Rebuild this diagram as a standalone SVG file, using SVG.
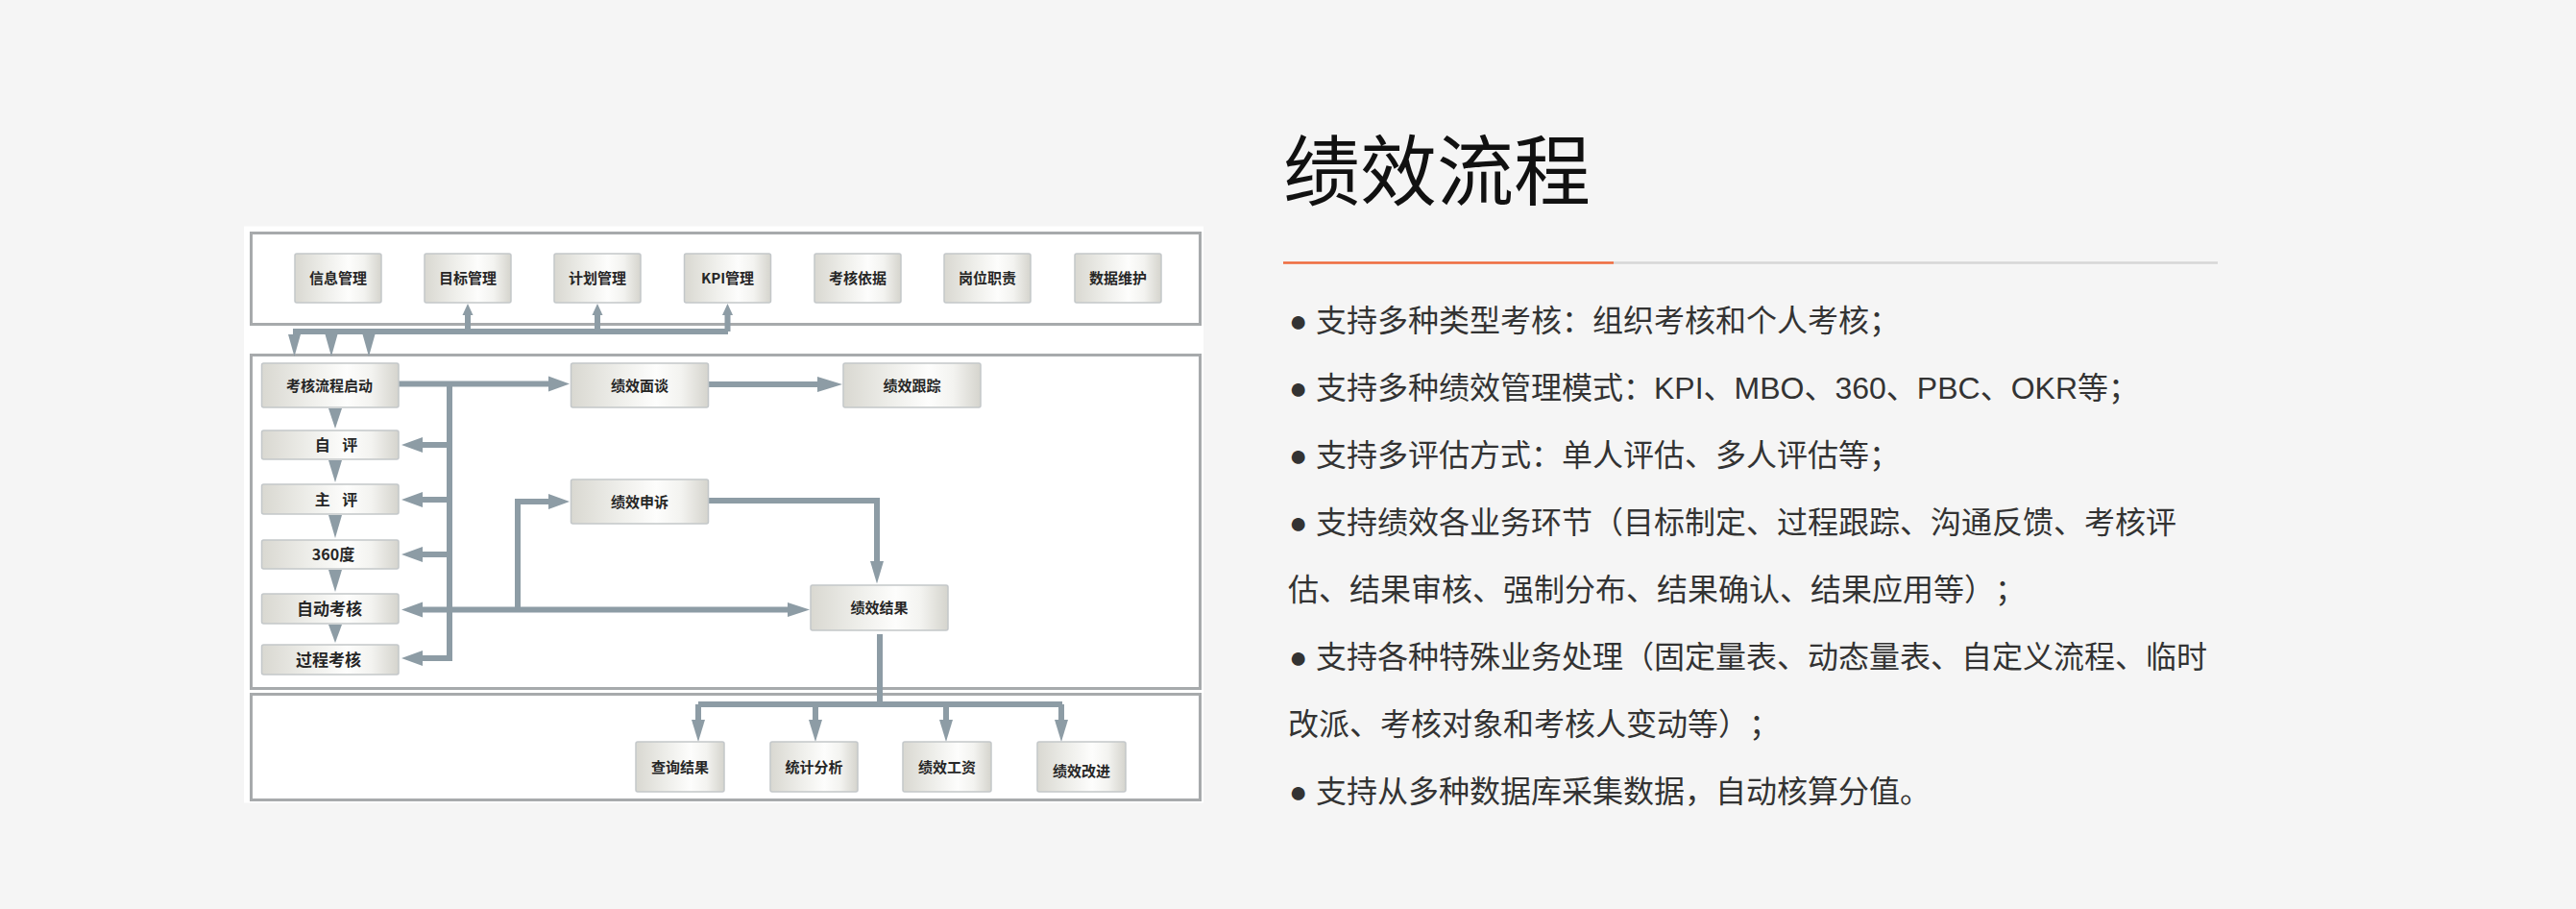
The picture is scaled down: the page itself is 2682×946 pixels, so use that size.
<svg xmlns="http://www.w3.org/2000/svg" width="2682" height="946" viewBox="0 0 2682 946">
<defs>
<linearGradient id="ng" x1="0" y1="0" x2="1" y2="0">
<stop offset="0" stop-color="#d9d8d1"/>
<stop offset="0.35" stop-color="#eeeeea"/>
<stop offset="0.62" stop-color="#fdfdfc"/>
<stop offset="0.8" stop-color="#f3f3f0"/>
<stop offset="1" stop-color="#d5d4cd"/>
</linearGradient>
<style>
.box{fill:none;stroke:#a7aaac;stroke-width:3}
.nd rect{fill:url(#ng);stroke:#c3c7c9;stroke-width:1.5}
.nd text{font-family:"Noto Sans CJK SC","Noto Sans",sans-serif;font-weight:700;font-size:15px;fill:#262626;text-anchor:middle}
.ln{fill:none;stroke:#8d9ca5;stroke-width:6;stroke-linejoin:miter}
.ah{fill:#8d9ca5}
.ttl{font-family:"Noto Sans CJK SC","Noto Sans",sans-serif;font-size:80px;fill:#111111}
.bl{font-family:"Liberation Sans","Noto Sans CJK SC",sans-serif;font-size:32px;fill:#333333;text-spacing-trim:space-all}
</style>
</defs>
<rect x="0" y="0" width="2682" height="946" fill="#f5f5f5"/>
<rect x="254" y="235.5" width="999" height="600" fill="#ffffff"/>
<g id="frames">
<rect class="box" x="261.5" y="242.5" width="988" height="95"/>
<rect class="box" x="261.5" y="369.5" width="988" height="347"/>
<rect class="box" x="261.5" y="722.5" width="988" height="110"/>
</g>
<g id="connectors">
<path class="ln" d="M305 345 H758"/>
<path class="ln" d="M487 345 V324 M622 345 V324 M757.5 345 V324"/>
<polygon class="ah" points="487,316 481.5,328 492.5,328"/>
<polygon class="ah" points="622,316 616.5,328 627.5,328"/>
<polygon class="ah" points="757.5,316 752,328 763,328"/>
<polygon class="ah" points="300,348 313,348 306.5,371"/>
<polygon class="ah" points="338.5,348 351.5,348 345,371"/>
<polygon class="ah" points="377.5,348 390.5,348 384,371"/>
<path class="ln" d="M415 399.5 H572"/>
<polygon class="ah" points="593,399.5 571,391.5 571,407.5"/>
<path class="ln" d="M468 399.5 V688"/>
<polygon class="ah" points="342,425 356,425 349,446"/>
<polygon class="ah" points="342,479 356,479 349,502"/>
<polygon class="ah" points="342,536 356,536 349,560"/>
<polygon class="ah" points="342,593 356,593 349,616"/>
<polygon class="ah" points="342,650 356,650 349,669"/>
<path class="ln" d="M471 463 H436 M471 520 H436 M471 577 H436 M471 685 H436"/>
<polygon class="ah" points="418,463 440,455 440,471"/>
<polygon class="ah" points="418,520 440,512 440,528"/>
<polygon class="ah" points="418,577 440,569 440,585"/>
<polygon class="ah" points="418,685 440,677 440,693"/>
<path class="ln" d="M436 634.5 H822"/>
<polygon class="ah" points="418,634.5 440,626.5 440,642.5"/>
<polygon class="ah" points="843,634.5 820,627 820,642"/>
<path class="ln" d="M539 634.5 V522 H573"/>
<polygon class="ah" points="593,522 571,514 571,530"/>
<path class="ln" d="M737.5 400 H854"/>
<polygon class="ah" points="877,400 851,392 851,408"/>
<path class="ln" d="M737.5 521 H913 V587"/>
<polygon class="ah" points="913,607.5 906,584 920,584"/>
<path class="ln" d="M916 660 V733"/>
<path class="ln" d="M727 733 H1106"/>
<path class="ln" d="M727 733 V752 M849 733 V752 M985 733 V752 M1105 733 V752"/>
<polygon class="ah" points="720,749 734,749 727,772"/>
<polygon class="ah" points="842,749 856,749 849,772"/>
<polygon class="ah" points="978,749 992,749 985,772"/>
<polygon class="ah" points="1098,749 1112,749 1105,772"/>
</g>
<g id="n-xinxi" class="nd"><rect x="307" y="264" width="90" height="51" rx="2"/><text x="352" y="295">信息管理</text></g>
<g id="n-mubiao" class="nd"><rect x="442" y="264" width="90" height="51" rx="2"/><text x="487" y="295">目标管理</text></g>
<g id="n-jihua" class="nd"><rect x="577" y="264" width="90" height="51" rx="2"/><text x="622" y="295">计划管理</text></g>
<g id="n-kpi" class="nd"><rect x="712.5" y="264" width="90" height="51" rx="2"/><text x="757.5" y="295">KPI管理</text></g>
<g id="n-yiju" class="nd"><rect x="848" y="264" width="90" height="51" rx="2"/><text x="893" y="295">考核依据</text></g>
<g id="n-gangwei" class="nd"><rect x="983" y="264" width="90" height="51" rx="2"/><text x="1028" y="295">岗位职责</text></g>
<g id="n-shuju" class="nd"><rect x="1119" y="264" width="90" height="51" rx="2"/><text x="1164" y="295">数据维护</text></g>
<g id="n-qidong" class="nd"><rect x="272.5" y="378" width="142.5" height="46" rx="2"/><text x="343" y="406.5">考核流程启动</text></g>
<g id="n-ziping" class="nd"><rect x="272.5" y="448" width="142.5" height="30" rx="2"/><text x="350" y="469" style="font-size:16px;word-spacing:9px">自 评</text></g>
<g id="n-zhuping" class="nd"><rect x="272.5" y="504" width="142.5" height="31" rx="2"/><text x="350" y="525.5" style="font-size:16px;word-spacing:9px">主 评</text></g>
<g id="n-360" class="nd"><rect x="272.5" y="562" width="142.5" height="30" rx="2"/><text x="347" y="583" style="font-size:16px">360度</text></g>
<g id="n-zidong" class="nd"><rect x="272.5" y="618" width="142.5" height="31" rx="2"/><text x="343" y="640" style="font-size:17px">自动考核</text></g>
<g id="n-guocheng" class="nd"><rect x="272.5" y="671" width="142.5" height="31" rx="2"/><text x="342" y="693" style="font-size:17px">过程考核</text></g>
<g id="n-miantan" class="nd"><rect x="594.5" y="378" width="143" height="46" rx="2"/><text x="666" y="406.5">绩效面谈</text></g>
<g id="n-genzong" class="nd"><rect x="878" y="378" width="143" height="46" rx="2"/><text x="949.5" y="406.5">绩效跟踪</text></g>
<g id="n-shensu" class="nd"><rect x="594.5" y="499" width="143" height="46" rx="2"/><text x="666" y="527.5">绩效申诉</text></g>
<g id="n-jieguo" class="nd"><rect x="844" y="609" width="143" height="47" rx="2"/><text x="915.5" y="638">绩效结果</text></g>
<g id="n-chaxun" class="nd"><rect x="662" y="772" width="92" height="52" rx="2"/><text x="708" y="804">查询结果</text></g>
<g id="n-tongji" class="nd"><rect x="802" y="772" width="91" height="52" rx="2"/><text x="847.5" y="804">统计分析</text></g>
<g id="n-gongzi" class="nd"><rect x="940" y="772" width="92" height="52" rx="2"/><text x="986" y="804">绩效工资</text></g>
<g id="n-gaijin" class="nd"><rect x="1080" y="772" width="92" height="52" rx="2"/><text x="1126" y="808">绩效改进</text></g>
<g id="title">
<text class="ttl" x="1336" y="207">绩效流程</text>
<line x1="1336" y1="273.5" x2="1680" y2="273.5" stroke="#ee6a3c" stroke-width="2.5"/>
<line x1="1680" y1="273.5" x2="2309" y2="273.5" stroke="#d6d6d6" stroke-width="2.5"/>
</g>
<g id="bullets">
<text class="bl" y="345"><tspan x="1342">●</tspan><tspan x="1370">支持多种类型考核：组织考核和个人考核；</tspan></text>
<text class="bl" y="415"><tspan x="1342">●</tspan><tspan x="1370">支持多种绩效管理模式：KPI、MBO、360、PBC、OKR等；</tspan></text>
<text class="bl" y="485"><tspan x="1342">●</tspan><tspan x="1370">支持多评估方式：单人评估、多人评估等；</tspan></text>
<text class="bl" y="555"><tspan x="1342">●</tspan><tspan x="1370">支持绩效各业务环节（目标制定、过程跟踪、沟通反馈、考核评</tspan></text>
<text class="bl" x="1341" y="625">估、结果审核、强制分布、结果确认、结果应用等）；</text>
<text class="bl" y="695"><tspan x="1342">●</tspan><tspan x="1370">支持各种特殊业务处理（固定量表、动态量表、自定义流程、临时</tspan></text>
<text class="bl" x="1341" y="765">改派、考核对象和考核人变动等）；</text>
<text class="bl" y="835"><tspan x="1342">●</tspan><tspan x="1370">支持从多种数据库采集数据，自动核算分值。</tspan></text>
</g>
</svg>
